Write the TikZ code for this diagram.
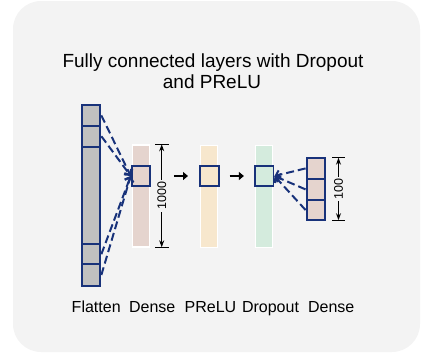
\documentclass[tikz,border=0pt]{standalone}
\usepackage{fontspec}
\setmainfont{Liberation Sans}
\usetikzlibrary{arrows.meta}
\definecolor{navy}{RGB}{24,50,122}
\definecolor{bgc}{RGB}{243,243,243}
\definecolor{flatg}{RGB}{192,192,192}
\definecolor{pinkc}{RGB}{229,212,206}
\definecolor{peachc}{RGB}{247,231,205}
\definecolor{greenc}{RGB}{212,235,221}
\tikzset{
  cell/.style={draw=navy, line width=2pt, inner sep=0pt, minimum width=18.3bp},
  bar/.style={draw=white, line width=1.2pt, inner sep=0pt, minimum width=17bp, minimum height=102bp},
  sq/.style={draw=navy, line width=2pt, inner sep=0pt, minimum width=18.6bp, minimum height=20.8bp},
  conn/.style={draw=navy, line width=2pt, dash pattern=on 8pt off 4pt, -{Straight Barb[length=4pt,width=9pt,line width=2pt]}},
  flow/.style={line width=3pt, -{Triangle[length=5pt,width=8pt]}},
  dim/.style={line width=1pt, {Stealth[length=7pt,width=5pt]}-{Stealth[length=7pt,width=5pt]}},
  tick/.style={line width=1.2pt},
  lbl/.style={font=\fontsize{16bp}{18bp}\selectfont, anchor=base},
  dimlbl/.style={font=\fontsize{12.5bp}{14bp}\selectfont, fill=bgc, inner sep=2pt, rotate=90}
}
\begin{document}
\begin{tikzpicture}[x=1bp, y=-1bp]
\useasboundingbox (0,0) rectangle (421,354);
\fill[bgc] (13,1) [rounded corners=28bp] rectangle (420,352);

% title
\node[font=\fontsize{19bp}{21bp}\selectfont, anchor=base] (t1) at (213,67.3) {Fully connected layers with Dropout};
\node[font=\fontsize{19bp}{21bp}\selectfont, anchor=base] (t2) at (212,88.5) {and PReLU};

% Flatten column
\node[cell, fill=flatg, minimum height=20.7bp] (f1) at (91.2,115.4) {};
\node[cell, fill=flatg, minimum height=21bp] (f2) at (91.2,136.2) {};
\node[cell, fill=flatg, minimum height=97.3bp] (f3) at (91.2,195.4) {};
\node[cell, fill=flatg, minimum height=20.3bp] (f4) at (91.2,254.2) {};
\node[cell, fill=flatg, minimum height=21.4bp] (f5) at (91.2,275) {};

% Dense bar
\node[bar, fill=pinkc] (b1) at (140.8,195.9) {};
\node[sq, fill=pinkc] (s1) at (141,176) {};
% PReLU bar
\node[bar, fill=peachc] (b2) at (209.2,196.2) {};
\node[sq, fill=peachc] (s2) at (209.3,176) {};
% Dropout bar
\node[bar, fill=greenc] (b3) at (264.3,196.2) {};
\node[sq, fill=greenc] (s3) at (264.2,176) {};

% right Dense stack
\node[cell, fill=pinkc, minimum height=21.3bp] (d1) at (315.7,168.4) {};
\node[cell, fill=pinkc, minimum height=20.7bp] (d2) at (315.7,189.4) {};
\node[cell, fill=pinkc, minimum height=20.6bp] (d3) at (315.7,210) {};

% connections
\draw[conn] (f1.east) -- (s1.west);
\draw[conn] (f2.east) -- (s1.west);
\draw[conn] (f4.east) -- (s1.west);
\draw[conn] (f5.east) -- (s1.west);
\draw[conn] (d1.west) -- (s3.east);
\draw[conn] (d2.west) -- (s3.east);
\draw[conn] (d3.west) -- (s3.east);

\draw[flow, shorten <=22.5bp, shorten >=11bp] (s1.east) -- (s2.west);
\draw[flow, shorten <=10bp, shorten >=10bp] (s2.east) -- (s3.west);

% dimension 1000
\coordinate (a1) at (161.7,144.3);
\coordinate (a2) at (161.7,247.3);
\draw[tick] (155,144.3) -- (169,144.3);
\draw[tick] (155,247.3) -- (169,247.3);
\draw[dim] (a1) -- (a2) node[midway, dimlbl] {1000};

% dimension 100
\coordinate (c1) at (338.5,157.7);
\coordinate (c2) at (338.5,220.2);
\draw[tick] (332.3,157.7) -- (345,157.7);
\draw[tick] (332.3,220.2) -- (345,220.2);
\draw[dim] (c1) -- (c2) node[midway, dimlbl] {100};

% labels
\node[lbl] (l1) at (96.2,312.5) {Flatten};
\node[lbl] (l2) at (152.2,312.5) {Dense};
\node[lbl] (l3) at (210.5,312.5) {PReLU};
\node[lbl] (l4) at (270.5,312.5) {Dropout};
\node[lbl] (l5) at (331.2,312.5) {Dense};
\end{tikzpicture}
\end{document}
